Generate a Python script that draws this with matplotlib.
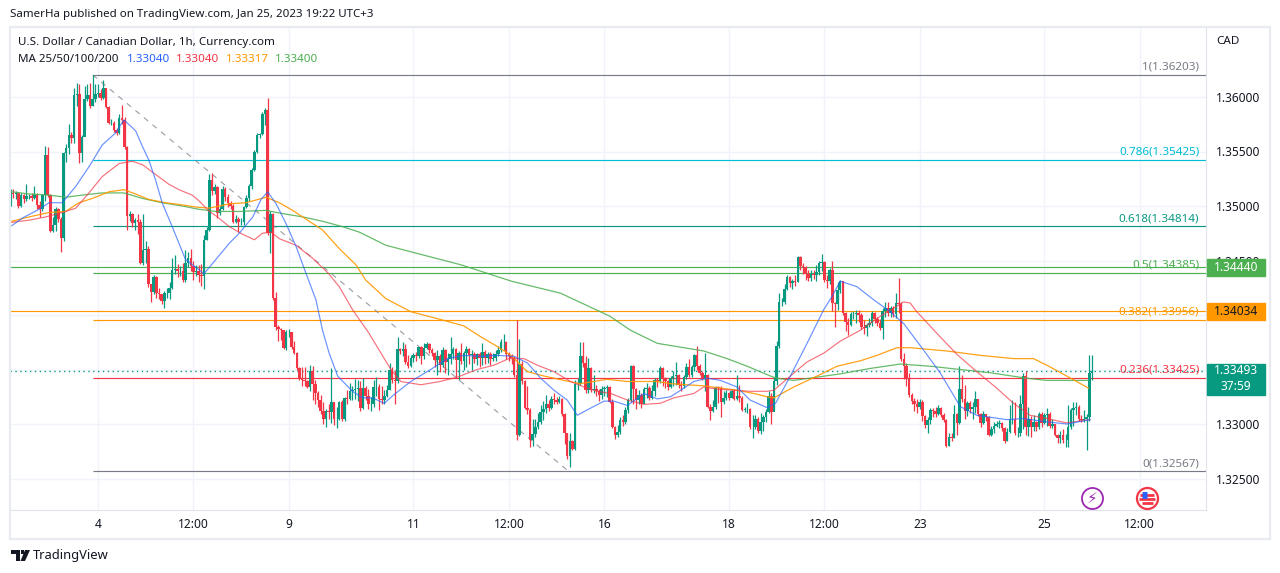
import matplotlib
matplotlib.use("Agg")
import matplotlib.pyplot as plt
from matplotlib.patches import Rectangle, Polygon, Circle
from matplotlib.transforms import blended_transform_factory
import numpy as np

plt.rcParams['font.family'] = ['Noto Sans', 'DejaVu Sans']

# hourly candles, price in pips (1.33493 -> 13349)
close_px = [
    13512, 13511, 13512, 13500, 13510, 13506, 13509, 13509, 13507, 13510,
    13501, 13497, 13510, 13547, 13510, 13477, 13483, 13497, 13488, 13471,
    13549, 13553, 13565, 13562, 13602, 13603, 13549, 13563, 13598, 13602,
    13592, 13598, 13603, 13604, 13599, 13608, 13591, 13576, 13576, 13570,
    13567, 13581, 13579, 13554, 13491, 13493, 13484, 13487, 13485, 13448,
    13460, 13461, 13428, 13421, 13435, 13420, 13419, 13413, 13420, 13420,
    13425, 13441, 13442, 13440, 13440, 13432, 13448, 13452, 13445, 13439,
    13440, 13437, 13436, 13469, 13478, 13524, 13514, 13517, 13494, 13497,
    13516, 13508, 13503, 13500, 13485, 13488, 13485, 13485, 13499, 13507,
    13518, 13533, 13550, 13565, 13566, 13584, 13588, 13475, 13493, 13416,
    13389, 13387, 13386, 13370, 13384, 13384, 13371, 13365, 13351, 13341,
    13340, 13339, 13334, 13349, 13337, 13328, 13322, 13312, 13305, 13312,
    13311, 13320, 13305, 13305, 13320, 13305, 13324, 13323, 13330, 13331,
    13332, 13333, 13315, 13333, 13326, 13318, 13318, 13334, 13334, 13323,
    13322, 13326, 13331, 13350, 13340, 13339, 13369, 13367, 13369, 13357,
    13353, 13361, 13363, 13362, 13371, 13362, 13370, 13373, 13368, 13365,
    13359, 13362, 13354, 13368, 13357, 13360, 13364, 13369, 13359, 13365,
    13358, 13365, 13369, 13363, 13364, 13360, 13364, 13361, 13366, 13361,
    13364, 13360, 13361, 13364, 13368, 13375, 13375, 13364, 13362, 13361,
    13345, 13290, 13355, 13339, 13315, 13313, 13285, 13291, 13297, 13302,
    13311, 13314, 13318, 13315, 13323, 13322, 13320, 13323, 13309, 13292,
    13271, 13284, 13277, 13337, 13337, 13362, 13356, 13331, 13351, 13331,
    13332, 13330, 13327, 13332, 13333, 13334, 13320, 13297, 13290, 13293,
    13304, 13302, 13313, 13322, 13353, 13332, 13322, 13327, 13318, 13332,
    13333, 13324, 13330, 13340, 13339, 13351, 13341, 13339, 13334, 13342,
    13344, 13345, 13336, 13335, 13343, 13352, 13345, 13352, 13363, 13353,
    13347, 13342, 13345, 13316, 13312, 13316, 13334, 13333, 13320, 13324,
    13328, 13324, 13330, 13323, 13326, 13324, 13313, 13314, 13314, 13297,
    13297, 13305, 13294, 13302, 13306, 13311, 13326, 13311, 13339, 13372,
    13412, 13412, 13424, 13435, 13429, 13431, 13430, 13453, 13445, 13444,
    13438, 13434, 13438, 13437, 13439, 13448, 13449, 13432, 13431, 13441,
    13411, 13410, 13423, 13431, 13402, 13394, 13391, 13401, 13401, 13402,
    13400, 13389, 13388, 13391, 13393, 13402, 13396, 13393, 13388, 13404,
    13406, 13402, 13406, 13401, 13411, 13410, 13360, 13353, 13342, 13327,
    13321, 13318, 13316, 13320, 13307, 13299, 13304, 13313, 13312, 13309,
    13315, 13308, 13304, 13280, 13288, 13287, 13309, 13301, 13332, 13323,
    13312, 13319, 13314, 13316, 13323, 13309, 13301, 13309, 13306, 13290,
    13295, 13298, 13300, 13301, 13296, 13284, 13293, 13305, 13305, 13292,
    13292, 13318, 13344, 13297, 13305, 13297, 13302, 13297, 13309, 13301,
    13308, 13309, 13298, 13300, 13290, 13287, 13290, 13285, 13285, 13297,
    13313, 13315, 13316, 13305, 13304, 13305, 13306, 13347, 13349,
]
high_px = [
    13516, 13516, 13514, 13513, 13512, 13511, 13520, 13511, 13512, 13518,
    13512, 13505, 13511, 13555, 13554, 13511, 13490, 13499, 13498, 13490,
    13550, 13557, 13575, 13568, 13608, 13613, 13612, 13565, 13610, 13612,
    13613, 13620, 13612, 13612, 13607, 13616, 13608, 13592, 13580, 13578,
    13572, 13584, 13593, 13582, 13555, 13495, 13494, 13489, 13493, 13488,
    13493, 13468, 13463, 13428, 13437, 13436, 13425, 13419, 13422, 13425,
    13430, 13452, 13455, 13447, 13445, 13448, 13460, 13458, 13461, 13450,
    13446, 13446, 13447, 13473, 13481, 13529, 13530, 13520, 13518, 13500,
    13518, 13517, 13511, 13505, 13502, 13492, 13490, 13489, 13500, 13510,
    13520, 13535, 13551, 13567, 13567, 13586, 13590, 13599, 13495, 13494,
    13421, 13391, 13388, 13386, 13386, 13387, 13384, 13376, 13366, 13352,
    13352, 13352, 13340, 13354, 13353, 13340, 13330, 13327, 13320, 13314,
    13318, 13351, 13320, 13316, 13321, 13322, 13325, 13331, 13338, 13335,
    13341, 13340, 13339, 13342, 13335, 13332, 13325, 13340, 13343, 13337,
    13335, 13331, 13336, 13356, 13352, 13350, 13380, 13370, 13375, 13373,
    13363, 13363, 13365, 13366, 13371, 13372, 13374, 13375, 13374, 13370,
    13366, 13368, 13364, 13371, 13369, 13365, 13380, 13371, 13370, 13367,
    13374, 13367, 13372, 13370, 13368, 13366, 13365, 13366, 13374, 13368,
    13366, 13366, 13365, 13368, 13372, 13378, 13383, 13376, 13366, 13364,
    13362, 13395, 13378, 13358, 13340, 13335, 13315, 13305, 13305, 13310,
    13317, 13321, 13327, 13322, 13326, 13328, 13325, 13326, 13324, 13310,
    13292, 13292, 13285, 13340, 13342, 13375, 13375, 13362, 13361, 13352,
    13345, 13336, 13332, 13335, 13335, 13336, 13335, 13323, 13298, 13299,
    13306, 13308, 13316, 13324, 13354, 13354, 13333, 13331, 13328, 13334,
    13338, 13335, 13336, 13342, 13342, 13353, 13352, 13343, 13340, 13344,
    13349, 13357, 13346, 13339, 13345, 13356, 13360, 13354, 13364, 13372,
    13355, 13349, 13365, 13346, 13318, 13322, 13335, 13335, 13335, 13330,
    13331, 13329, 13332, 13332, 13345, 13336, 13326, 13316, 13319, 13315,
    13308, 13308, 13306, 13310, 13308, 13314, 13330, 13328, 13343, 13376,
    13420, 13416, 13428, 13437, 13436, 13433, 13437, 13454, 13454, 13448,
    13445, 13441, 13441, 13441, 13446, 13450, 13456, 13450, 13437, 13443,
    13450, 13412, 13430, 13432, 13430, 13403, 13397, 13403, 13404, 13405,
    13405, 13402, 13395, 13393, 13397, 13404, 13403, 13398, 13396, 13406,
    13412, 13412, 13408, 13408, 13420, 13434, 13412, 13365, 13356, 13347,
    13328, 13324, 13323, 13323, 13322, 13308, 13306, 13315, 13315, 13316,
    13317, 13316, 13310, 13305, 13292, 13292, 13317, 13310, 13353, 13345,
    13336, 13321, 13321, 13320, 13330, 13323, 13310, 13312, 13309, 13307,
    13298, 13302, 13303, 13304, 13302, 13297, 13296, 13317, 13322, 13320,
    13297, 13327, 13347, 13349, 13316, 13307, 13308, 13303, 13311, 13311,
    13310, 13315, 13311, 13305, 13300, 13291, 13294, 13295, 13291, 13317,
    13315, 13320, 13320, 13317, 13308, 13313, 13309, 13363, 13363,
]
low_px = [
    13500, 13507, 13506, 13498, 13499, 13503, 13505, 13506, 13505, 13506,
    13497, 13490, 13495, 13505, 13508, 13476, 13476, 13477, 13485, 13458,
    13468, 13540, 13548, 13558, 13558, 13592, 13539, 13540, 13570, 13596,
    13590, 13592, 13595, 13600, 13597, 13598, 13590, 13575, 13574, 13568,
    13565, 13566, 13575, 13552, 13478, 13486, 13481, 13478, 13474, 13447,
    13446, 13448, 13426, 13412, 13419, 13416, 13415, 13410, 13406, 13416,
    13415, 13424, 13438, 13435, 13436, 13430, 13430, 13444, 13440, 13432,
    13436, 13430, 13427, 13424, 13469, 13477, 13510, 13511, 13489, 13492,
    13496, 13505, 13499, 13497, 13484, 13484, 13476, 13483, 13483, 13498,
    13505, 13516, 13532, 13549, 13562, 13565, 13574, 13473, 13457, 13414,
    13386, 13376, 13377, 13369, 13368, 13380, 13369, 13364, 13350, 13340,
    13335, 13335, 13333, 13330, 13322, 13318, 13316, 13309, 13300, 13297,
    13305, 13301, 13299, 13296, 13304, 13303, 13303, 13318, 13322, 13322,
    13323, 13321, 13312, 13314, 13322, 13314, 13312, 13316, 13326, 13313,
    13318, 13318, 13325, 13331, 13338, 13318, 13338, 13364, 13362, 13355,
    13351, 13352, 13357, 13358, 13361, 13355, 13360, 13369, 13365, 13362,
    13352, 13345, 13348, 13352, 13347, 13345, 13355, 13360, 13343, 13340,
    13355, 13350, 13352, 13355, 13350, 13356, 13354, 13352, 13354, 13355,
    13356, 13354, 13358, 13358, 13362, 13366, 13368, 13360, 13358, 13355,
    13343, 13285, 13289, 13337, 13314, 13309, 13279, 13280, 13288, 13295,
    13300, 13304, 13310, 13312, 13314, 13318, 13318, 13319, 13307, 13282,
    13268, 13261, 13276, 13276, 13331, 13336, 13352, 13328, 13328, 13329,
    13328, 13326, 13321, 13323, 13326, 13325, 13319, 13296, 13286, 13288,
    13291, 13298, 13300, 13310, 13320, 13318, 13314, 13318, 13315, 13319,
    13324, 13322, 13323, 13326, 13334, 13338, 13335, 13333, 13331, 13333,
    13335, 13336, 13333, 13330, 13333, 13341, 13343, 13343, 13349, 13350,
    13345, 13340, 13330, 13315, 13304, 13311, 13314, 13319, 13306, 13318,
    13322, 13322, 13324, 13322, 13322, 13320, 13312, 13311, 13310, 13295,
    13287, 13295, 13292, 13291, 13294, 13302, 13310, 13300, 13312, 13336,
    13370, 13408, 13410, 13423, 13426, 13424, 13427, 13430, 13441, 13438,
    13432, 13431, 13431, 13433, 13431, 13437, 13440, 13430, 13425, 13428,
    13404, 13389, 13405, 13420, 13400, 13385, 13382, 13390, 13396, 13393,
    13394, 13387, 13383, 13381, 13389, 13390, 13393, 13390, 13386, 13378,
    13398, 13399, 13398, 13398, 13397, 13402, 13358, 13341, 13335, 13325,
    13318, 13312, 13310, 13314, 13303, 13296, 13292, 13300, 13306, 13306,
    13308, 13306, 13302, 13279, 13280, 13284, 13287, 13290, 13300, 13320,
    13305, 13307, 13310, 13305, 13310, 13307, 13297, 13300, 13303, 13289,
    13289, 13292, 13297, 13296, 13294, 13283, 13284, 13292, 13300, 13290,
    13288, 13289, 13295, 13290, 13289, 13288, 13294, 13294, 13295, 13297,
    13300, 13298, 13296, 13296, 13289, 13283, 13283, 13283, 13279, 13279,
    13295, 13298, 13308, 13303, 13302, 13302, 13276, 13303, 13340,
]

# moving averages, read at a few bars each
ma25_x = [0.5, 4.5, 10.8, 14.5, 19.5, 24.6, 29.6, 34.6, 39.6, 42.8, 47.2, 49.7, 52.2, 54.7, 57.2, 61, 66, 73, 77.5,
          82.6, 86.3, 91.4, 94.5, 97, 100.2, 103.9, 107.7, 111.5, 115.2, 117.7, 120.2, 123.4, 129, 132.8, 136.6, 141,
          144.7, 151, 158.5, 164.8, 171, 177.4, 183.7, 190, 195, 200, 205, 210, 213.8, 217.6, 223.9, 227.6, 232.7,
          239, 244, 249, 252.8, 257.8, 262.8, 267.8, 274, 279, 285.4, 288.6, 294.2, 300.5, 306.8, 309.9, 313, 319.3,
          325.6, 331.9, 337, 344.4, 350.7, 358.3, 364.5, 375.8, 382, 390.9, 398.5, 407.2]
ma25_y = [13482, 13489, 13497, 13503, 13503, 13518, 13536, 13556, 13567, 13579, 13569, 13555, 13542, 13524, 13503, 13481, 13451, 13438, 13451,
          13466, 13475, 13490, 13506, 13513, 13502, 13484, 13463, 13438, 13414, 13386, 13365, 13344, 13330, 13324, 13324, 13319,
          13327, 13339, 13350, 13360, 13363, 13362, 13363, 13362, 13356, 13342, 13331, 13322, 13308, 13313, 13321, 13321, 13317,
          13328, 13323, 13325, 13331, 13339, 13342, 13340, 13334, 13322, 13315, 13319, 13344, 13374, 13405, 13417, 13431, 13426,
          13414, 13403, 13392, 13368, 13347, 13316, 13308, 13304, 13305, 13302, 13300, 13304]
ma50_x = [0.5, 7, 13.3, 19.5, 24.6, 29.6, 34.6, 41, 46, 49.7, 54.7, 59.7, 63.5, 68.5, 71, 75, 77.5, 82.6, 87.6, 92, 95,
          98.3, 101.4, 107.7, 114, 120, 124, 129, 135.3, 141, 143.5, 147.2, 154.8, 162, 168.6, 176, 182.4, 188, 193.7,
          198.7, 205, 211.3, 216.3, 221.3, 226.4, 232.7, 239, 245.2, 250.2, 257.8, 261.5, 266.6, 272.9, 279, 285.4, 288,
          294.2, 300.5, 306.8, 313, 320.6, 326.9, 333, 336.9, 339.4, 341.9, 350.7, 357, 364.5, 372, 378.4, 384.6, 390.9,
          398.5, 407.2]
ma50_y = [13485, 13487, 13490, 13494, 13498, 13512, 13527, 13539, 13541, 13538, 13529, 13520, 13515, 13510, 13505, 13495, 13491, 13481, 13474, 13469, 13475,
          13476, 13470, 13464, 13452, 13438, 13426, 13405, 13383, 13360, 13350, 13339, 13336, 13339, 13343, 13350, 13354, 13360, 13360,
          13354, 13348, 13339, 13334, 13330, 13328, 13322, 13318, 13319, 13324, 13328, 13334, 13332, 13331, 13330, 13330, 13331,
          13344, 13357, 13365, 13376, 13386, 13397, 13406, 13412, 13411, 13403, 13380, 13364, 13348, 13333, 13319, 13308, 13305,
          13301, 13304]
ma100_x = [0.5, 7, 14.5, 20.8, 25.8, 30.9, 37.1, 42.8, 47.2, 52.2, 58.5, 64.8, 70, 75, 82.6, 88.8, 96.4, 101.4, 106.4, 112.7,
           117.7, 124, 130.3, 134, 141.6, 151, 163.6, 171, 177.4, 183.7, 188.7, 195, 201.3, 208.8, 215, 225, 232.7, 244,
           249, 255, 261.5, 267.8, 274, 280.4, 285.4, 288, 295.5, 304.3, 311.8, 320.6, 326.9, 334.4, 339.4, 353.2, 365.8,
           378.4, 385.9, 390.9, 398.5, 406.6]
ma100_y = [13486, 13490, 13494, 13495, 13503, 13507, 13513, 13515, 13511, 13506, 13503, 13501, 13499, 13498, 13502, 13503, 13508, 13503, 13496, 13486,
           13478, 13461, 13446, 13432, 13415, 13403, 13395, 13390, 13380, 13371, 13363, 13348, 13344, 13340, 13337, 13341, 13339, 13339,
           13337, 13336, 13335, 13333, 13331, 13328, 13325, 13324, 13334, 13344, 13353, 13358, 13363, 13370, 13370, 13367, 13363,
           13360, 13360, 13354, 13344, 13333]
ma200_x = [0.5, 7, 14.5, 20.8, 27, 34.6, 42.8, 49.7, 57.2, 64.8, 71, 77.5, 86.3, 96.4, 102.7, 110.2, 117.7, 125.3, 131.6, 141.6,
           151, 170, 189, 207.5, 226, 233.9, 244, 251.5, 261.5, 270.3, 277.9, 286.7, 289, 295.5, 304.3, 313, 324.4, 335.7,
           347, 358.3, 369.6, 383.4, 390.9, 406.6]
ma200_y = [13513, 13511, 13510, 13508, 13510, 13512, 13512, 13507, 13503, 13500, 13497, 13495, 13495, 13496, 13493, 13490, 13486, 13481, 13476, 13464,
           13458, 13446, 13431, 13420, 13399, 13386, 13374, 13371, 13367, 13360, 13353, 13344, 13342, 13340, 13343, 13346, 13351, 13355,
           13353, 13350, 13347, 13342, 13340, 13340]

# fib retracement
fib_names = ["1", "0.786", "0.618", "0.5", "0.382", "0.236", "0"]
fib_prices = [1.36203, 1.35425, 1.34814, 1.34385, 1.33956, 1.33425, 1.32567]
fib_colors = ["#787b86", "#00bcd4", "#089981", "#4caf50", "#ff9800", "#f23645", "#787b86"]

price_ticks = [1.36, 1.355, 1.35, 1.345, 1.34, 1.335, 1.33, 1.325]
# 1.34000 and 1.33500 sit behind the price boxes
price_labels = ["1.36000", "1.35500", "1.35000", "1.34500", "", "", "1.33000", "1.32500"]
time_ticks = [33, 69, 105, 152, 188, 224, 271, 307, 343, 390, 426]
time_labels = ["4", "12:00", "9", "11", "12:00", "16", "18", "12:00", "23", "25", "12:00"]

up = "#089981"
down = "#f23645"
W, H = 1280, 573

close = np.array(close_px) / 10000
high = np.array(high_px) / 10000
low = np.array(low_px) / 10000
opn = np.r_[1.3510, close[:-1]]
idx = np.arange(len(close))
colors = [up if c >= o else down for o, c in zip(opn, close)]

fig = plt.figure(figsize=(W / 100, H / 100), dpi=100)
ax = fig.add_axes([10 / W, 1 - 510 / H, 1196 / W, 483 / H])
ax.set_xlim(-0.2, 451)
ax.set_ylim(1.36 - 413 / 10900, 1.36 + 70 / 10900)

ax.grid(True, color="#f0f3fa", lw=1)
ax.set_axisbelow(True)
for s in ["left", "top"]:
    ax.spines[s].set_visible(False)
for s in ["right", "bottom"]:
    ax.spines[s].set_color("#e0e3eb")
ax.yaxis.tick_right()
ax.set_yticks(price_ticks)
ax.set_yticklabels(price_labels)
ax.set_xticks(time_ticks)
ax.set_xticklabels(time_labels)
ax.tick_params(length=0, labelsize=8.6, labelcolor="#131722")
ax.tick_params(axis="y", pad=7)
ax.tick_params(axis="x", pad=6)

# candles
ax.vlines(idx, low, high, colors=colors, lw=0.9, zorder=3)
ax.bar(idx, np.abs(close - opn), bottom=np.minimum(opn, close), width=0.95, color=colors, lw=0, zorder=3)

# levels
ax.axhline(1.34440, color="#4caf50", lw=0.85, zorder=2)
ax.axhline(1.34034, color="#ff9800", lw=0.85, zorder=2)
ax.axhline(close[-1], color=up, lw=1, ls=(0, (1, 2.5)), zorder=2)
for name, p, col in zip(fib_names, fib_prices, fib_colors):
    ax.hlines(p, 31, 451, color=col, lw=0.85, zorder=2)
    ax.annotate("%s(%.5f)" % (name, p), (448.5, p), xytext=(0, 1.5), textcoords="offset points",
                ha="right", va="bottom", fontsize=8.4, color=col)
ax.plot([31, 210.5], [fib_prices[0], fib_prices[-1]], color="#787b86", lw=0.8, alpha=0.75, ls=(0, (5, 5)), zorder=2)

# moving averages
ax.plot(ma200_x, np.array(ma200_y) / 10000, color="#4caf50", lw=0.9, alpha=0.85, zorder=4)
ax.plot(ma100_x, np.array(ma100_y) / 10000, color="#ff9800", lw=0.9, alpha=0.9, zorder=4)
ax.plot(ma50_x, np.array(ma50_y) / 10000, color="#f23645", lw=0.85, alpha=0.7, zorder=4)
ax.plot(ma25_x, np.array(ma25_y) / 10000, color="#2962ff", lw=0.85, alpha=0.7, zorder=4)

# price boxes on the scale
tr = blended_transform_factory(ax.transAxes, ax.transData)
box_w = 58 / 1196
for p, col, txt, tc in [(1.34440, "#4caf50", "1.34440", "white"), (1.34034, "#ff9800", "1.34034", "#131722")]:
    ax.add_patch(Rectangle((1.0008, p - 8.5 / 10900), box_w, 17 / 10900, transform=tr, color=col, clip_on=False, zorder=10))
    ax.text(1.0008 + box_w / 2, p, txt, transform=tr, color=tc, fontsize=8.6, ha="center", va="center", zorder=11)
p = close[-1]
ax.add_patch(Rectangle((1.0008, p - 24 / 10900), box_w, 31 / 10900, transform=tr, color=up, clip_on=False, zorder=10))
ax.text(1.0008 + box_w / 2, p, "1.33493", transform=tr, color="white", fontsize=8.6, ha="center", va="center", zorder=11)
ax.text(1.0008 + box_w / 2, p - 15.5 / 10900, "37:59", transform=tr, color="white", fontsize=8.6, ha="center", va="center", zorder=11)

# event icons under the candles
ev_y = 1.36 - 401 / 10900
ax.scatter([408], [ev_y], s=230, facecolor="white", edgecolor="#9c27b0", lw=1.3, zorder=5)
ax.text(408, ev_y, "\u26a1", color="#9c27b0", fontsize=11, ha="center", va="center", zorder=6, family="DejaVu Sans")
ax.scatter([428.8], [ev_y], s=230, facecolor="white", edgecolor="#f23645", lw=1.6, zorder=5)
for dy, w in [(-5, 5.5), (-1, 8), (3, 7)]:
    ax.plot([428.8 - w / 2.653, 428.8 + w / 2.653], [ev_y + dy / 10900] * 2, color="#f23645", lw=2, zorder=6, solid_capstyle="butt")
ax.plot([427, 428.8], [ev_y + 3 / 10900] * 2, color="#2962ff", lw=5, zorder=7, solid_capstyle="butt")

# outer frame
fig.add_artist(Rectangle((9.5 / W, 1 - 538.5 / H), 1260 / W, 512 / H, fill=False, ec="#e9ebf2", lw=1.6))

fig.text(10 / W, 1 - 15 / H, "SamerHa published on TradingView.com, Jan 25, 2023 19:22 UTC+3", fontsize=8.3, color="#131722", va="center")
fig.text(18 / W, 1 - 43 / H, "U.S. Dollar / Canadian Dollar, 1h, Currency.com", fontsize=8.35, color="#131722", va="center")
fig.text(18 / W, 1 - 60 / H, "MA 25/50/100/200", fontsize=8.35, color="#131722", va="center")
for x0, txt, col in [(127, "1.33040", "#2962ff"), (176, "1.33040", "#f23645"), (226, "1.33317", "#ff9800"), (275, "1.33400", "#4caf50")]:
    fig.text(x0 / W, 1 - 60 / H, txt, fontsize=8.35, color=col, va="center")
fig.text(1216 / W, 1 - 42 / H, "CAD", fontsize=8.4, color="#131722", va="center")

# logo and name at the bottom
fig.text(33 / W, 1 - 556 / H, "TradingView", fontsize=9.3, color="#131722", va="center")
flip = lambda pts: [(x / W, 1 - y / H) for x, y in pts]
fig.add_artist(Polygon(flip([(11, 550), (20, 550), (20, 561), (16, 561), (16, 554), (11, 554)]), transform=fig.transFigure, fc="#131722", ec="none"))
fig.add_artist(Polygon(flip([(25, 550), (30, 550), (25, 561), (20.5, 561)]), transform=fig.transFigure, fc="#131722", ec="none"))
fig.add_artist(Polygon(flip([(20.5, 550), (24, 550), (24, 553.5), (20.5, 553.5)]), transform=fig.transFigure, fc="#131722", ec="none"))

fig.savefig("out.png", dpi=100)
